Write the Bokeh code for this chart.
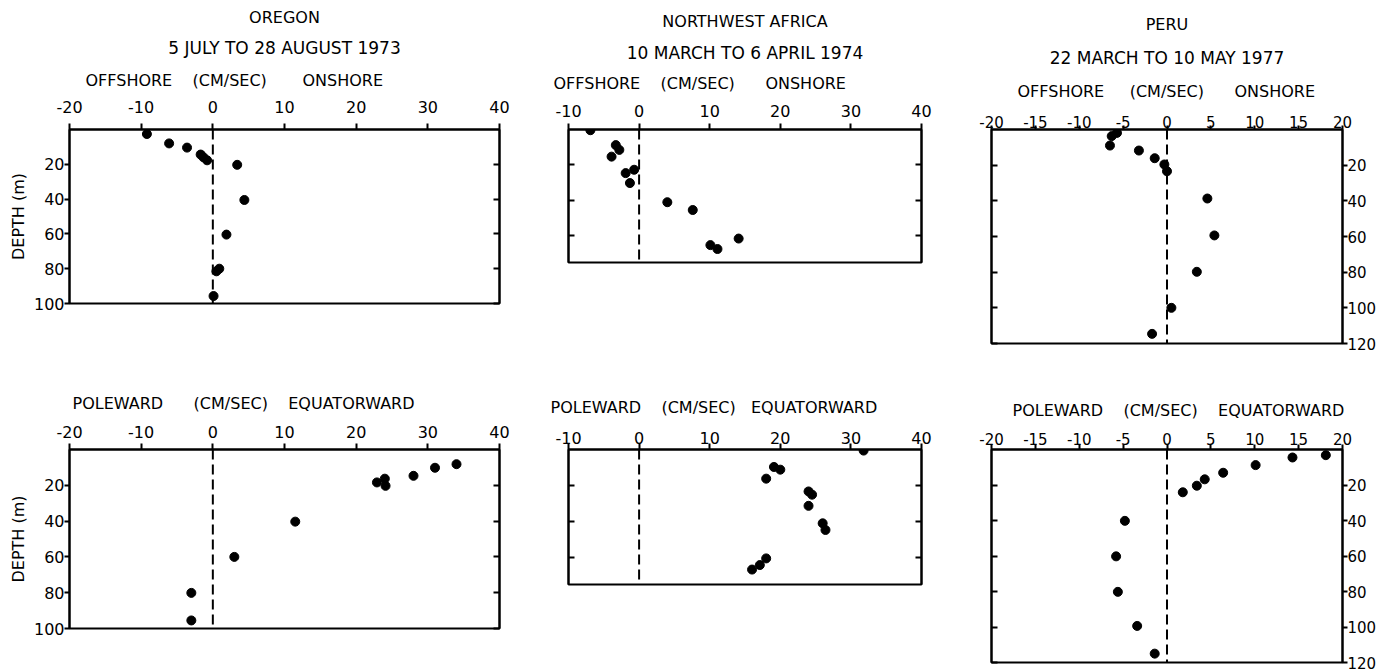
from bokeh.plotting import figure
from bokeh.models import Range1d, LinearAxis, FixedTicker, Span, Title
from bokeh.layouts import row, column
from bokeh.embed import file_html
from bokeh.resources import INLINE

FONT = "DejaVu Sans"
NB = "\u00a0"

# ---------------- data ----------------
# Oregon, 5 July - 28 August 1973
oregon_cross_vel = [-9.2, -6.1, -3.6, -1.7, -1.3, -0.8, 3.4, 4.4, 1.9, 0.9, 0.5, 0.1]
oregon_cross_depth = [2.6, 8.0, 10.4, 14.4, 16.0, 17.7, 20.3, 40.5, 60.4, 80.0, 81.5, 95.7]
oregon_along_vel = [34.0, 31.0, 28.0, 24.0, 22.9, 24.1, 11.5, 3.0, -3.0, -3.0]
oregon_along_depth = [8.2, 10.2, 14.7, 16.3, 18.4, 20.3, 40.3, 60.0, 80.1, 95.5]

# Northwest Africa, 10 March - 6 April 1974
nwa_cross_vel = [-6.9, -3.3, -2.8, -3.9, -1.9, -0.7, -1.3, 4.0, 7.6, 10.1, 11.1, 14.1]
nwa_cross_depth = [0.4, 8.8, 11.5, 15.3, 24.6, 22.7, 30.2, 41.0, 45.4, 65.2, 67.4, 61.5]
nwa_along_vel = [31.8, 19.1, 20.0, 18.0, 24.0, 24.5, 24.0, 26.0, 26.4, 18.0, 17.1, 16.0]
nwa_along_depth = [0.6, 9.7, 11.2, 16.2, 23.3, 25.1, 31.3, 41.0, 44.7, 60.5, 64.2, 66.7]

# Peru, 22 March - 10 May 1977
peru_cross_vel = [-5.7, -6.3, -6.5, -3.2, -1.4, -0.3, 0.0, 4.6, 5.4, 3.4, 0.5, -1.7]
peru_cross_depth = [1.9, 3.7, 9.0, 11.8, 16.1, 19.6, 23.4, 38.7, 59.4, 79.8, 100.0, 114.6]
peru_along_vel = [18.1, 14.3, 10.1, 6.4, 4.3, 3.4, 1.8, -4.8, -5.8, -5.6, -3.4, -1.4]
peru_along_depth = [3.2, 4.5, 8.8, 13.1, 16.8, 20.4, 24.1, 40.2, 60.2, 80.2, 99.4, 115.0]

# tick values and labels
oregon_xticks = [-20, -10, 0, 10, 20, 30, 40]
oregon_xlabels = ["-20", "-10", "0", "10", "20", "30", "40"]
oregon_yticks = [20, 40, 60, 80, 100]
oregon_ylabels = ["20", "40", "60", "80", "100"]
nwa_xticks = [-10, 0, 10, 20, 30, 40]
nwa_xlabels = ["-10", "0", "10", "20", "30", "40"]
nwa_yticks = [20, 40, 60]
peru_xticks = [-20, -15, -10, -5, 0, 5, 10, 15, 20]
peru_xlabels = ["-20", "-15", "-10", "-5", "0", "5", "10", "15", "20"]
peru_yticks = [20, 40, 60, 80, 100, 120]
peru_ylabels = ["20", "40", "60", "80", "100", "120"]

# texts
places = ["OREGON", "NORTHWEST AFRICA", "PERU"]
periods = ["5 JULY TO 28 AUGUST 1973", "10 MARCH TO 6 APRIL 1974", "22 MARCH TO 10 MAY 1977"]
cross_words = ["OFFSHORE", "(CM/SEC)", "ONSHORE"]
along_words = ["POLEWARD", "(CM/SEC)", "EQUATORWARD"]
depth_label = "DEPTH (m)"

T1, B1 = 128, 34      # row 1 top / bottom borders (px)
T2, B2 = 72, 10       # row 2 top / bottom borders (px)


def spaced(words, g1, g2):
    # wide lettering gaps of the original (non-collapsing spaces)
    return words[0] + " " + NB * (g1 - 1) + words[1] + " " + NB * (g2 - 1) + words[2]


def style_axis(ax, ticks, labels, tick_out, tick_in, standoff, size="16px"):
    ax.ticker = FixedTicker(ticks=ticks)
    if labels is None:
        ax.major_label_overrides = {t: "" for t in ticks}
    else:
        ax.major_label_overrides = {t: l for t, l in zip(ticks, labels)}
    ax.major_tick_out = tick_out
    ax.major_tick_in = tick_in
    ax.minor_tick_line_color = None
    ax.axis_line_width = 2
    ax.major_tick_line_width = 2
    ax.axis_line_color = "black"
    ax.major_tick_line_color = "black"
    ax.major_label_text_font = FONT
    ax.major_label_text_font_size = size
    ax.major_label_text_color = "black"
    ax.major_label_standoff = standoff


def panel(width, height, borders, xr, yr, xticks, xlabels, yticks, ylabels,
          ylabel_side, vel, depth, titles, show_depth_label=False,
          xtick_out=6, xstandoff=5, tick_size="16px"):
    left, right, top, bottom = borders
    p = figure(width=width, height=height, x_range=Range1d(*xr), y_range=Range1d(yr, 0),
               x_axis_location="above", y_axis_location=ylabel_side,
               output_backend="svg", toolbar_location=None, title=None,
               min_border_left=left, min_border_right=right,
               min_border_top=top, min_border_bottom=bottom)
    p.xgrid.visible = False
    p.ygrid.visible = False
    p.outline_line_color = "black"
    p.outline_line_width = 2
    p.outline_line_alpha = 1.0
    p.background_fill_color = "white"
    p.border_fill_color = "white"

    style_axis(p.xaxis[0], xticks, xlabels, xtick_out, 0, xstandoff, tick_size)
    main_y = p.yaxis[0]
    if ylabels is not None:
        style_axis(main_y, yticks, ylabels, 5, 0, 0, tick_size)
    else:
        style_axis(main_y, yticks, None, 0, 6, 0)
    if show_depth_label:
        main_y.axis_label = depth_label
        main_y.axis_label_text_font = FONT
        main_y.axis_label_text_font_size = "16px"
        main_y.axis_label_text_font_style = "normal"
        main_y.axis_label_text_color = "black"
        main_y.axis_label_standoff = 3
    other = LinearAxis()
    style_axis(other, yticks, None, 0, 6, 0)
    p.add_layout(other, "right" if ylabel_side == "left" else "left")

    p.add_layout(Span(location=0, dimension="height", line_color="black",
                      line_width=2, line_dash="10 5"))
    p.scatter(vel, depth, size=9, color="black")

    # titles stacked upward from the axis: (text, align, offset, standoff, size)
    for text, align, offset, standoff, size in titles:
        p.add_layout(Title(text=text, align=align, offset=offset, standoff=standoff,
                           text_font=FONT, text_font_size=size,
                           text_font_style="normal", text_color="black"), "above")
    return p


f1 = panel(540, 337, (69, 41, T1, B1), (-20, 40), 100, oregon_xticks, oregon_xlabels,
           oregon_yticks, oregon_ylabels, "left", oregon_cross_vel, oregon_cross_depth,
           [(spaced(cross_words, 4, 7), "left", 16, 16, "16px"),
            (periods[0], "center", 0, 6, "17px"),
            (places[0], "center", 0, 11, "16px")],
           show_depth_label=True, xstandoff=11)
f2 = panel(420, 296, (28, 39, T1, B1), (-10, 40), 75, nwa_xticks, nwa_xlabels,
           nwa_yticks, None, "left", nwa_cross_vel, nwa_cross_depth,
           [(spaced(cross_words, 4, 6), "left", -15, 18, "16px"),
            (periods[1], "center", 0, 0, "17px"),
            (places[1], "center", 0, 19, "16px")], xstandoff=7)
f3 = panel(427, 377, (31, 45, T1, B1), (-20, 20), 120, peru_xticks, peru_xlabels,
           peru_yticks, peru_ylabels, "right", peru_cross_vel, peru_cross_depth,
           [(spaced(cross_words, 5, 6), "left", 26, 24, "16px"),
            (periods[2], "center", 0, 0, "17px"),
            (places[2], "center", 0, 23, "16px")],
           xtick_out=4, xstandoff=-2, tick_size="15px")
f4 = panel(540, 261, (69, 41, T2, B2), (-20, 40), 100, oregon_xticks, oregon_xlabels,
           oregon_yticks, oregon_ylabels, "left", oregon_along_vel, oregon_along_depth,
           [(spaced(along_words, 6, 4), "left", 3, 19, "16px")],
           show_depth_label=True, xstandoff=6)
f5 = panel(420, 217, (28, 39, T2, B2), (-10, 40), 75, nwa_xticks, nwa_xlabels,
           nwa_yticks, None, "left", nwa_along_vel, nwa_along_depth,
           [(spaced(along_words, 4, 3), "left", -18, 24, "16px")], xstandoff=0)
f6 = panel(427, 295, (31, 45, T2, B2), (-20, 20), 120, peru_xticks, peru_xlabels,
           peru_yticks, peru_ylabels, "right", peru_along_vel, peru_along_depth,
           [(spaced(along_words, 4, 4), "left", 21, 20, "16px")],
           xtick_out=5, xstandoff=0, tick_size="15px")

layout = column(row(f1, f2, f3), row(f4, f5, f6))
open("out.html", "w").write(file_html(layout, INLINE))
